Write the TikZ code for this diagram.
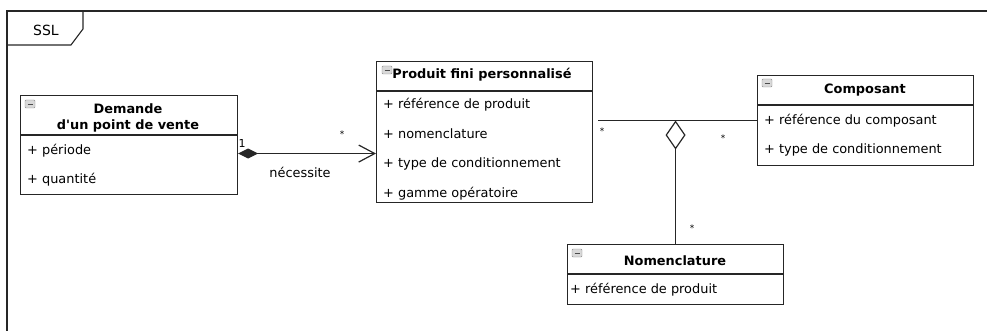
\documentclass[tikz,border=0pt]{standalone}
\usepackage{fontspec}
\setmainfont{DejaVu Sans}
\usetikzlibrary{arrows.meta}

\tikzset{
  classbox/.style 2 args={draw=black!85, line width=1.1pt, fill=white, anchor=north west,
    inner sep=0pt, minimum width=#1, minimum height=#2},
  headsep/.style={draw=black!85, line width=1.1pt},
  title/.style={font=\fontsize{12.9}{16}\selectfont\bfseries, align=center, inner sep=0pt},
  attr/.style={anchor=west, inner sep=0pt},
  mult/.style={font=\fontsize{9}{9}\selectfont, inner sep=0pt},
  frame/.style={draw=black!85, line width=1.1pt},
  assoc/.style={draw=black!85, line width=1.2pt},
  compo/.style={assoc, {Diamond[length=20pt,width=10pt]}-{Straight Barb[length=16pt,width=17pt]}},
  aggr/.style={assoc, -{Diamond[open, fill=white, length=29pt, width=20pt]}},
  minusicon/.pic={
    \draw[black!45, fill=black!15, rounded corners=1pt] (0,0) rectangle (10,8);
    \draw[black!70, line width=0.9pt] (2.5,4) -- (7.5,4);
  }
}

\begin{document}
\begin{tikzpicture}[x=1pt, y=-1pt, font=\fontsize{12.9}{15}\selectfont]
  \useasboundingbox (0,0) rectangle (987,331);

  % package frame and its tab
  \draw[frame] (987,11) -- (7,11) -- (7,331);
  \draw[frame] (83,11) -- (83,29) -- (71,45) -- (7,45);
  \node (ssl) at (46,30) {\fontsize{14}{14}\selectfont SSL};

  % Demande d'un point de vente
  \node[classbox={217pt}{99pt}] (dem) at (20,95) {};
  \draw[headsep] ([yshift=-40pt]dem.north west) -- ([yshift=-40pt]dem.north east);
  \pic at ([shift={(5,5)}]dem.north west) {minusicon};
  \node[title] (dem-t) at (128,118) {Demande\\d\textquotesingle un point de vente};
  \node[attr] (dem-a1) at (27,151) {+ période};
  \node[attr] (dem-a2) at (27,180) {+ quantité};

  % Produit fini personnalise
  \node[classbox={216pt}{141pt}] (pfp) at (376,61) {};
  \draw[headsep] ([yshift=-30pt]pfp.north west) -- ([yshift=-30pt]pfp.north east);
  \pic at ([shift={(6,5)}]pfp.north west) {minusicon};
  \node[title] (pfp-t) at (482,75) {Produit fini personnalisé};
  \node[attr] (pfp-a1) at (383,105) {+ référence de produit};
  \node[attr] (pfp-a2) at (383,134) {+ nomenclature};
  \node[attr] (pfp-a3) at (383,164) {+ type de conditionnement};
  \node[attr] (pfp-a4) at (383,194) {+ gamme opératoire};

  % Composant
  \node[classbox={216pt}{90pt}] (cmp) at (757,75) {};
  \draw[headsep] ([yshift=-30pt]cmp.north west) -- ([yshift=-30pt]cmp.north east);
  \pic at ([shift={(5,4)}]cmp.north west) {minusicon};
  \node[title] (cmp-t) at (865,90) {Composant};
  \node[attr] (cmp-a1) at (764,121) {+ référence du composant};
  \node[attr] (cmp-a2) at (764,150) {+ type de conditionnement};

  % Nomenclature
  \node[classbox={216pt}{60pt}] (nom) at (567,244) {};
  \draw[headsep] ([yshift=-30pt]nom.north west) -- ([yshift=-30pt]nom.north east);
  \pic at ([shift={(5,5)}]nom.north west) {minusicon};
  \node[title] (nom-t) at (675,261) {Nomenclature};
  \node[attr] (nom-a1) at (570,290) {+ référence de produit};

  % composition: necessite
  \draw[compo] ([yshift=-8.5pt]dem.east) -- ([yshift=-8.5pt]dem.east -| pfp.west);
  \node[mult, font=\fontsize{11}{11}\selectfont] (m1) at (242,143) {1};
  \node[mult] (m2) at (342,134) {*};
  \node (lbl) at (300,172) {nécessite};

  % aggregation towards the composant link
  \draw[assoc] ([xshift=5pt]pfp.east |- cmp.west) -- (cmp.west);
  \coordinate (agg) at (nom.north |- cmp.west);
  \draw[aggr] (nom.north) -- (agg);
  \node[mult] (m3) at (602,131) {*};
  \node[mult] (m4) at (723,138) {*};
  \node[mult] (m5) at (692,228) {*};
\end{tikzpicture}
\end{document}
